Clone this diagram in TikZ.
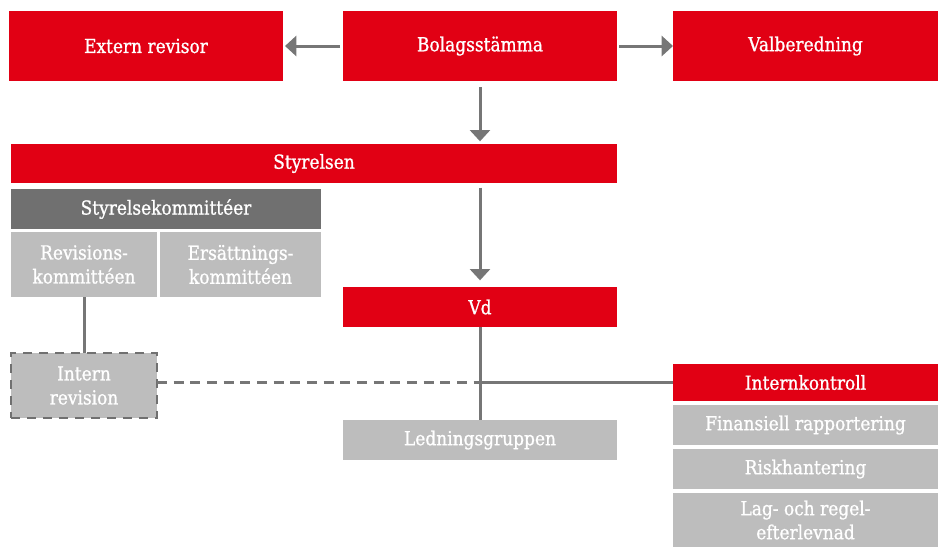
\documentclass[tikz,border=0pt]{standalone}
\usepackage{fontspec}
\setmainfont{DejaVu Serif}[FakeStretch=0.88, FakeBold=1]
\usetikzlibrary{arrows.meta, positioning}
\definecolor{myred}{HTML}{E10014}
\definecolor{mydark}{HTML}{707070}
\definecolor{mylight}{HTML}{BDBDBD}
\definecolor{myline}{HTML}{767676}
\tikzset{mybox/.style = {fill=#1, text=white, inner sep=0pt, outer sep=0pt, anchor=north west, align=center, font=\fontsize{14.5}{18}\selectfont},
	mysize/.style 2 args = {minimum width=#1*0.75pt, minimum height=#2*0.75pt},
	myline/.style = {draw=myline, line width=2.25pt},
	myarrow/.style = {myline, -{Triangle[length=8.5pt, width=15pt]}}}

\begin{document}
\begin{tikzpicture}[x=0.75pt, y=-0.75pt]
\useasboundingbox (0,0) rectangle (938,547);
\node[mybox=myred, mysize={274}{70}] (ext) at (9,11) {Extern revisor};
\node[mybox=myred, mysize={274}{70}] (bolag) at (343,11) {Bolagsstämma};
\node[mybox=myred, mysize={265}{70}] (val) at (673,11) {Valberedning};
\node[mybox=myred, mysize={606}{39}] (styr) at (11,144) {Styrelsen};
\node[mybox=mydark, mysize={310}{40}] (komm) at (11,189) {Styrelsekommittéer};
\node[mybox=mylight, mysize={146}{65}] (revk) at (11,232) {Revisions-\\kommittéen};
\node[mybox=mylight, mysize={161}{65}] (ersk) at (160,232) {Ersättnings-\\kommittéen};
\node[mybox=myred, mysize={274}{40}] (vd) at (343,287) {Vd};
\node[mybox=mylight, mysize={146}{65}, draw=mydark, line width=2pt, dash pattern=on 7pt off 5pt] (intrev) at (11,353) {Intern\\revision};
\node[mybox=mylight, mysize={274}{40}] (ledn) at (343,420) {Ledningsgruppen};
\node[mybox=myred, mysize={265}{37}] (intk) at (673,364) {Internkontroll};
\node[mybox=mylight, mysize={265}{40}, below=3pt of intk] (finrap) {Finansiell rapportering};
\node[mybox=mylight, mysize={265}{40}, below=3pt of finrap] (risk) {Riskhantering};
\node[mybox=mylight, mysize={265}{54}, below=3pt of risk] (lag) {Lag- och regel-\\efterlevnad};
\coordinate (junc) at (vd.south |- intk.west);
\draw[myarrow, shorten <=2.25pt, shorten >=1.5pt] (bolag) -- (ext);
\draw[myarrow, shorten <=1.5pt] (bolag) -- (val);
\draw[myarrow, shorten <=4.5pt, shorten >=2pt] (bolag.south) -- (bolag.south |- styr.north);
\draw[myarrow, shorten <=3.5pt, shorten >=5pt] (vd.north |- styr.south) -- (vd.north);
\draw[myline] (revk.south) -- (intrev.north);
\draw[myline] (vd.south) -- (ledn.north);
\draw[myline] (junc) -- (intk.west);
\draw[myline, line width=2pt, dash pattern=on 7.5pt off 5pt] (intrev.east |- junc) -- (junc);
\end{tikzpicture}
\end{document}
